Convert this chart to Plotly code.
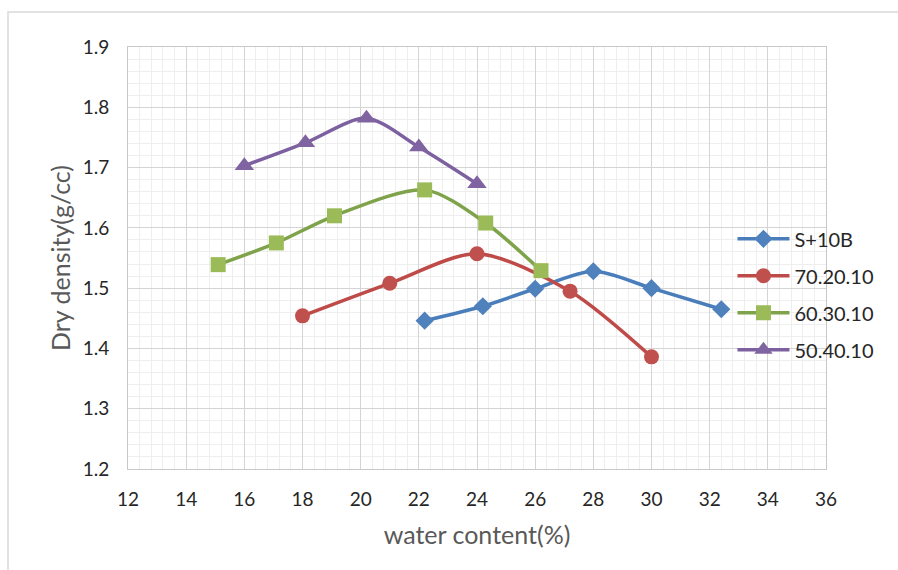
import plotly.graph_objects as go

# Compaction test results: water content (%) vs dry density (g/cc)
s10b_w = [22.2, 24.2, 26.0, 28.0, 30.0, 32.4]
s10b_d = [1.446, 1.470, 1.499, 1.528, 1.500, 1.465]

mix_70_20_10_w = [18.0, 21.0, 24.0, 27.2, 30.0]
mix_70_20_10_d = [1.454, 1.508, 1.557, 1.495, 1.386]

mix_60_30_10_w = [15.1, 17.1, 19.1, 22.2, 24.3, 26.2]
mix_60_30_10_d = [1.539, 1.575, 1.620, 1.663, 1.608, 1.529]

mix_50_40_10_w = [16.0, 18.1, 20.2, 22.0, 24.0]
mix_50_40_10_d = [1.703, 1.741, 1.782, 1.734, 1.673]

x_ticks = [12, 14, 16, 18, 20, 22, 24, 26, 28, 30, 32, 34, 36]
y_ticks = [1.2, 1.3, 1.4, 1.5, 1.6, 1.7, 1.8, 1.9]

series = [
    ("S+10B", s10b_w, s10b_d, "#4A7EBB", "#4F81BD", "diamond", 14),
    ("70.20.10", mix_70_20_10_w, mix_70_20_10_d, "#BE4B48", "#C0504D", "circle", 15),
    ("60.30.10", mix_60_30_10_w, mix_60_30_10_d, "#7FA34A", "#9BBB59", "square", 15),
    ("50.40.10", mix_50_40_10_w, mix_50_40_10_d, "#7D60A0", "#8064A2", "triangle-up", 17),
]

fig = go.Figure()
for name, xs, ys, lc, mc, sym, sz in series:
    fig.add_trace(go.Scatter(
        x=xs, y=ys, name=name, legendgroup=name, mode="lines+markers",
        line=dict(color=lc, width=3.5, shape="spline", smoothing=0.8),
        marker=dict(symbol=sym, size=sz, color=mc, line=dict(width=0)),
    ))

FONT = "Lato, Carlito, 'Open Sans', sans-serif"
major = "#D4D4D4"
minor = "#EEEEEE"

fig.update_layout(
    width=898, height=570,
    margin=dict(l=128, r=72, t=47, b=101),
    paper_bgcolor="white", plot_bgcolor="white",
    font=dict(family=FONT, size=19, color="#262626"),
    showlegend=True,
    legend=dict(
        x=0.866, y=0.414, xanchor="left", yanchor="middle",
        bgcolor="rgba(0,0,0,0)", font=dict(size=20, color="#262626"),
        tracegroupgap=8, itemwidth=52,
    ),
    xaxis=dict(
        range=[12, 36], tickvals=x_ticks, ticktext=[str(v) for v in x_ticks],
        showgrid=True, gridcolor=major, gridwidth=1,
        minor=dict(dtick=0.4, showgrid=True, gridcolor=minor, gridwidth=1),
        showline=True, linecolor="#C8C8C8", linewidth=1, mirror=True,
        zeroline=False, ticks="", ticklabelstandoff=13,
        tickfont=dict(size=19, color="#262626"),
        title=dict(text="water content(%)", font=dict(size=25, color="#595959"), standoff=17),
    ),
    yaxis=dict(
        range=[1.2, 1.9], tickvals=y_ticks, ticktext=[f"{v:.1f}" for v in y_ticks],
        showgrid=True, gridcolor=major, gridwidth=1,
        minor=dict(dtick=0.02, showgrid=True, gridcolor=minor, gridwidth=1),
        showline=True, linecolor="#C8C8C8", linewidth=1, mirror=True,
        zeroline=False, ticks="", ticklabelstandoff=14,
        tickfont=dict(size=19, color="#262626"),
        title=dict(text="Dry density(g/cc)", font=dict(size=25, color="#595959"), standoff=4),
    ),
)

# Chart frame
fig.add_shape(type="rect", xref="paper", yref="paper",
              x0=-120 / 698, x1=1.2, y0=-0.3, y1=1 + 35 / 422,
              line=dict(color="#D9D9D9", width=1.5), fillcolor="rgba(0,0,0,0)", layer="below")

fig.write_html("out.html")
